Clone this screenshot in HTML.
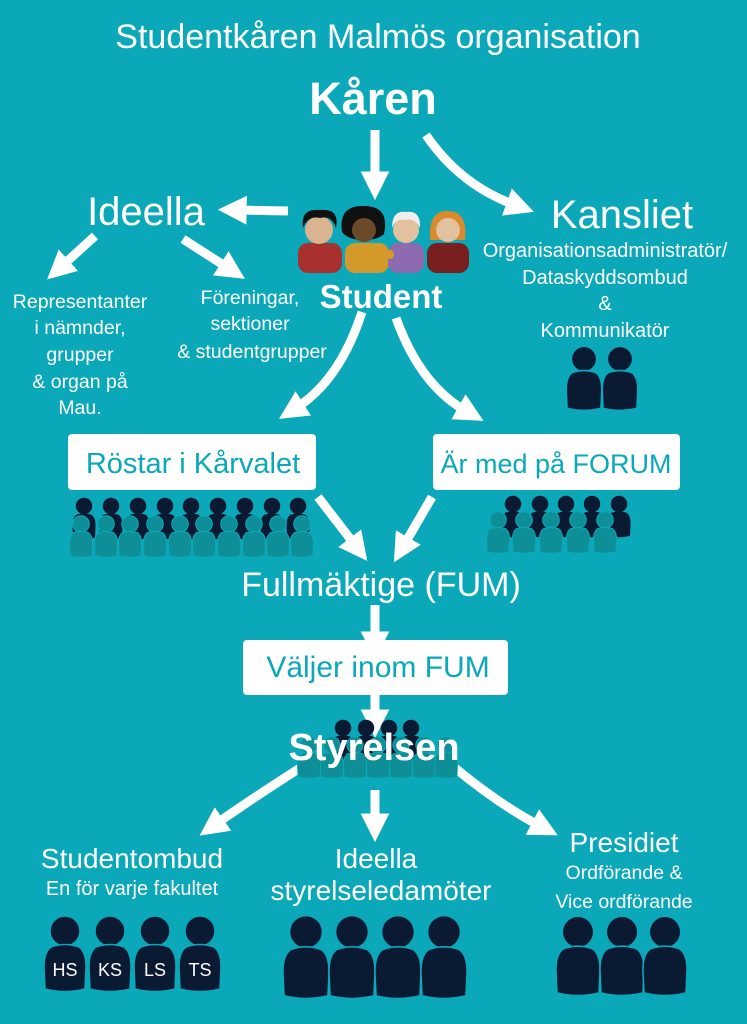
<!DOCTYPE html>
<html><head><meta charset="utf-8"><style>
html,body{margin:0;padding:0;background:#0aa8b8;}
svg{display:block}
text{font-family:"Liberation Sans","DejaVu Sans",sans-serif;fill:#fff}
</style></head><body>
<svg width="747" height="1024" viewBox="0 0 747 1024" xmlns="http://www.w3.org/2000/svg">
<defs>
<g id="p"><circle cx="0" cy="0" r="15"/><path d="M-14,16 Q-21,21 -21,36 L-20,58 Q0,63 20,58 L21,36 Q21,21 14,16 Q0,11 -14,16Z"/></g>
<marker id="ah" viewBox="0 0 10 10" refX="3" refY="5" markerWidth="3.2" markerHeight="3.6" orient="auto" markerUnits="strokeWidth"><path d="M0,0 L10,5 L0,10Z" fill="#fff"/></marker>
</defs>
<rect width="747" height="1024" fill="#0aa8b8"/>

<text x="378" y="48" font-size="34" text-anchor="middle">Studentkåren Malmös organisation</text>
<text x="373" y="114" font-size="45" font-weight="bold" text-anchor="middle">Kåren</text>

<g stroke="#fff" stroke-width="9" fill="none" marker-end="url(#ah)">
<path d="M375,130 L375,180"/>
<path d="M426,135 Q460,185 515,205"/>
<path d="M288,211 L238,210"/>
<path d="M95,236 L62,266"/>
<path d="M183,239 L228,268"/>
<path d="M362,312 Q340,380 296,408"/>
<path d="M396,318 Q420,385 466,411"/>
<path d="M318,497 L355,545"/>
<path d="M432,497 L404,545"/>
<path d="M375,605 L375,640"/>
<path d="M375,695 L375,718"/>
<path d="M300,768 Q250,800 216,824"/>
<path d="M375,790 L375,822"/>
<path d="M455,768 Q500,805 540,826"/>
</g>

<text x="146" y="225" font-size="40" text-anchor="middle">Ideella</text>
<text x="622" y="228" font-size="40" text-anchor="middle">Kansliet</text>

<g>
<rect x="298" y="243" width="44" height="30" rx="10" fill="#a8312f"/>
<circle cx="319" cy="230" r="14" fill="#d9b48f"/><path d="M303,228 Q300,208 320,210 Q340,208 336,228 Q332,215 320,218 Q308,215 303,228Z" fill="#111"/>
<rect x="345" y="243" width="44" height="30" rx="10" fill="#d39a2a"/>
<path d="M342,232 Q338,205 364,206 Q390,206 384,234 Q378,240 364,240 Q348,240 342,232Z" fill="#111"/><circle cx="364" cy="230" r="12" fill="#6b4a2b"/>
<rect x="388" y="243" width="36" height="30" rx="10" fill="#8e6ab0"/>
<circle cx="406" cy="230" r="13" fill="#e2c19e"/><path d="M392,228 Q392,210 406,212 Q421,210 420,228 Q415,218 406,220 Q396,218 392,228Z" fill="#eee"/>
<rect x="427" y="243" width="42" height="30" rx="10" fill="#7a1f20"/>
<path d="M430,240 Q428,210 448,211 Q468,211 465,240Z" fill="#d98a2c"/><circle cx="448" cy="230" r="12" fill="#e2c19e"/>
<rect x="372" y="250" width="22" height="9" rx="4" fill="#d39a2a"/>
</g>
<text x="381" y="308" font-size="33" font-weight="bold" text-anchor="middle">Student</text>

<g font-size="19.5" text-anchor="middle">
<text x="80" y="308">Representanter</text>
<text x="80" y="334">i nämnder,</text>
<text x="80" y="361">grupper</text>
<text x="80" y="388">&amp; organ på</text>
<text x="80" y="414">Mau.</text>
<text x="250" y="304">Föreningar,</text>
<text x="250" y="330">sektioner</text>
<text x="252" y="358">&amp; studentgrupper</text>
</g>
<g font-size="20" text-anchor="middle">
<text x="605" y="257">Organisationsadministratör/</text>
<text x="605" y="284">Dataskyddsombud</text>
<text x="605" y="310">&amp;</text>
<text x="605" y="337">Kommunikatör</text>
</g>
<g fill="#0b1a33" stroke="#0aa8b8" stroke-width="2">
<use href="#p" transform="translate(584,359) scale(0.85)"/>
<use href="#p" transform="translate(620,359) scale(0.85)"/>
</g>

<rect x="68" y="434" width="248" height="56" rx="4" fill="#fff"/>
<text x="193" y="473" font-size="29" text-anchor="middle" style="fill:#0aa8b8">Röstar i Kårvalet</text>
<rect x="433" y="434" width="247" height="56" rx="4" fill="#fff"/>
<text x="556" y="473" font-size="27" text-anchor="middle" style="fill:#0aa8b8">Är med på FORUM</text>

<g fill="#0b1a33">
<use href="#p" transform="translate(84,506) scale(0.55)"/><use href="#p" transform="translate(111,506) scale(0.55)"/><use href="#p" transform="translate(138,506) scale(0.55)"/><use href="#p" transform="translate(165,506) scale(0.55)"/><use href="#p" transform="translate(191,506) scale(0.55)"/><use href="#p" transform="translate(218,506) scale(0.55)"/><use href="#p" transform="translate(245,506) scale(0.55)"/><use href="#p" transform="translate(272,506) scale(0.55)"/><use href="#p" transform="translate(298,506) scale(0.55)"/>
<use href="#p" transform="translate(513,504) scale(0.55)"/><use href="#p" transform="translate(540,504) scale(0.55)"/><use href="#p" transform="translate(566,504) scale(0.55)"/><use href="#p" transform="translate(592,504) scale(0.55)"/><use href="#p" transform="translate(619,504) scale(0.55)"/>
</g>
<g fill="#0e8e96" stroke="#0aa8b8" stroke-width="2">
<use href="#p" transform="translate(81,524) scale(0.55)"/><use href="#p" transform="translate(106,524) scale(0.55)"/><use href="#p" transform="translate(130,524) scale(0.55)"/><use href="#p" transform="translate(155,524) scale(0.55)"/><use href="#p" transform="translate(180,524) scale(0.55)"/><use href="#p" transform="translate(204,524) scale(0.55)"/><use href="#p" transform="translate(229,524) scale(0.55)"/><use href="#p" transform="translate(254,524) scale(0.55)"/><use href="#p" transform="translate(278,524) scale(0.55)"/><use href="#p" transform="translate(302,524) scale(0.55)"/>
<use href="#p" transform="translate(498,520) scale(0.55)"/><use href="#p" transform="translate(524,520) scale(0.55)"/><use href="#p" transform="translate(551,520) scale(0.55)"/><use href="#p" transform="translate(578,520) scale(0.55)"/><use href="#p" transform="translate(605,520) scale(0.55)"/>
</g>

<text x="381" y="596" font-size="34" text-anchor="middle">Fullmäktige (FUM)</text>
<rect x="243" y="640" width="265" height="55" rx="4" fill="#fff"/>
<text x="378" y="677" font-size="30" text-anchor="middle" style="fill:#0aa8b8">Väljer inom FUM</text>

<g fill="#0b1a33">
<use href="#p" transform="translate(343,728) scale(0.55)"/><use href="#p" transform="translate(366,728) scale(0.55)"/><use href="#p" transform="translate(389,728) scale(0.55)"/><use href="#p" transform="translate(411,728) scale(0.55)"/>
</g>
<g fill="#0e8e96" stroke="#0aa8b8" stroke-width="1.5">
<use href="#p" transform="translate(309,745) scale(0.55)"/><use href="#p" transform="translate(332,745) scale(0.55)"/><use href="#p" transform="translate(355,745) scale(0.55)"/><use href="#p" transform="translate(378,745) scale(0.55)"/><use href="#p" transform="translate(401,745) scale(0.55)"/><use href="#p" transform="translate(424,745) scale(0.55)"/><use href="#p" transform="translate(446,745) scale(0.55)"/>
</g>
<text x="374" y="760" font-size="38" font-weight="bold" text-anchor="middle">Styrelsen</text>

<text x="132" y="868" font-size="28" text-anchor="middle">Studentombud</text>
<text x="132" y="895" font-size="20" text-anchor="middle">En för varje fakultet</text>
<text x="376" y="868" font-size="28" text-anchor="middle">Ideella</text>
<text x="381" y="900" font-size="28" text-anchor="middle">styrelseledamöter</text>
<text x="624" y="852" font-size="28" text-anchor="middle">Presidiet</text>
<text x="624" y="879" font-size="19.5" text-anchor="middle">Ordförande &amp;</text>
<text x="624" y="908" font-size="19.5" text-anchor="middle">Vice ordförande</text>

<g fill="#0b1a33" stroke="#0aa8b8" stroke-width="1.5">
<use href="#p" transform="translate(65,931)"/><use href="#p" transform="translate(110,931)"/><use href="#p" transform="translate(155,931)"/><use href="#p" transform="translate(200,931)"/>
<use href="#p" transform="translate(306,932) scale(1.1)"/><use href="#p" transform="translate(352,932) scale(1.1)"/><use href="#p" transform="translate(398,932) scale(1.1)"/><use href="#p" transform="translate(444,932) scale(1.1)"/>
<use href="#p" transform="translate(578,932) scale(1.05)"/><use href="#p" transform="translate(622,932) scale(1.05)"/><use href="#p" transform="translate(665,932) scale(1.05)"/>
</g>
<g font-size="18" text-anchor="middle">
<text x="65" y="976">HS</text><text x="110" y="976">KS</text><text x="155" y="976">LS</text><text x="200" y="976">TS</text>
</g>
</svg>
</body></html>
